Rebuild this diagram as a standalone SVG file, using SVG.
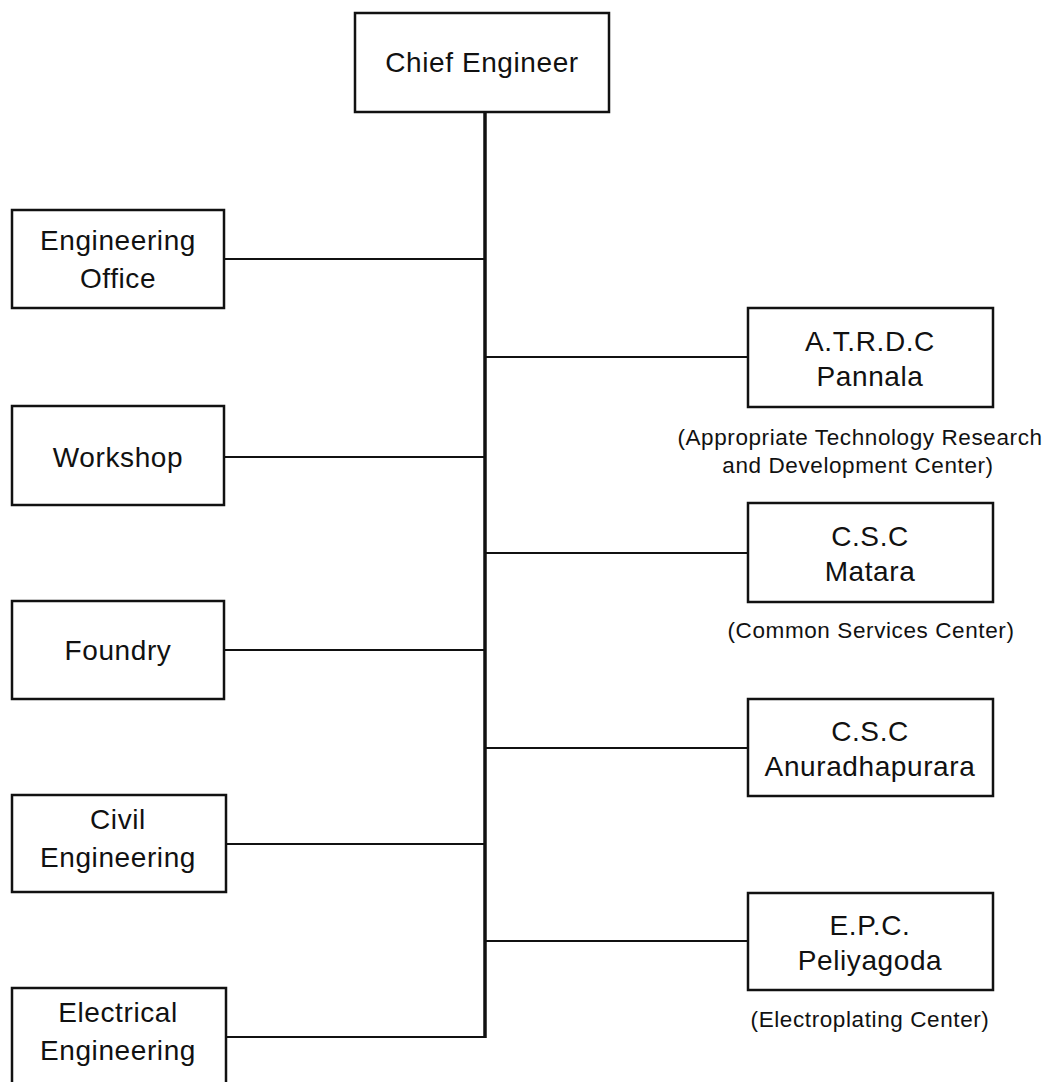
<svg xmlns="http://www.w3.org/2000/svg" width="1050" height="1082" viewBox="0 0 1050 1082">
  <style>
    .box { fill: #fff; stroke: #111; stroke-width: 2.5; }
    .lbl { font-family: "Liberation Sans", Arial, sans-serif; font-size: 28px; fill: #111; text-anchor: middle; letter-spacing: 0.6px; }
    .note { font-family: "Liberation Sans", Arial, sans-serif; font-size: 22.5px; fill: #111; text-anchor: middle; letter-spacing: 0.6px; }
    .trunk { stroke: #111; stroke-width: 3.5; fill: none; }
    .branch { stroke: #111; stroke-width: 1.8; fill: none; }
  </style>
  <rect width="1050" height="1082" fill="#fff"/>

  <!-- connectors: one trunk from the top node, branches to each unit -->
  <g id="connectors">
    <line class="trunk" x1="485" y1="112" x2="485" y2="1038"/>
    <line class="branch" x1="224" y1="259" x2="485" y2="259"/>
    <line class="branch" x1="224" y1="457" x2="485" y2="457"/>
    <line class="branch" x1="224" y1="650" x2="485" y2="650"/>
    <line class="branch" x1="226" y1="844" x2="485" y2="844"/>
    <line class="branch" x1="226" y1="1037" x2="485" y2="1037"/>
    <line class="branch" x1="485" y1="357" x2="748" y2="357"/>
    <line class="branch" x1="485" y1="553" x2="748" y2="553"/>
    <line class="branch" x1="485" y1="748" x2="748" y2="748"/>
    <line class="branch" x1="485" y1="941" x2="748" y2="941"/>
  </g>

  <!-- top node -->
  <g id="chief-engineer">
    <rect class="box" x="355" y="13" width="254" height="99"/>
    <text class="lbl" x="482" y="72">Chief Engineer</text>
  </g>

  <!-- left column -->
  <g id="engineering-office">
    <rect class="box" x="12" y="210" width="212" height="98"/>
    <text class="lbl" x="118" y="250">Engineering</text>
    <text class="lbl" x="118" y="288">Office</text>
  </g>
  <g id="workshop">
    <rect class="box" x="12" y="406" width="212" height="99"/>
    <text class="lbl" x="118" y="467">Workshop</text>
  </g>
  <g id="foundry">
    <rect class="box" x="12" y="601" width="212" height="98"/>
    <text class="lbl" x="118" y="660">Foundry</text>
  </g>
  <g id="civil-engineering">
    <rect class="box" x="12" y="795" width="214" height="97"/>
    <text class="lbl" x="118" y="829">Civil</text>
    <text class="lbl" x="118" y="867">Engineering</text>
  </g>
  <g id="electrical-engineering">
    <rect class="box" x="12" y="988" width="214" height="110"/>
    <text class="lbl" x="118" y="1022">Electrical</text>
    <text class="lbl" x="118" y="1060">Engineering</text>
  </g>

  <!-- right column -->
  <g id="atrdc-pannala">
    <rect class="box" x="748" y="308" width="245" height="99"/>
    <text class="lbl" x="870" y="351">A.T.R.D.C</text>
    <text class="lbl" x="870" y="386">Pannala</text>
    <text class="note" x="860" y="445">(Appropriate Technology Research</text>
    <text class="note" x="858" y="473">and Development Center)</text>
  </g>
  <g id="csc-matara">
    <rect class="box" x="748" y="503" width="245" height="99"/>
    <text class="lbl" x="870" y="546">C.S.C</text>
    <text class="lbl" x="870" y="581">Matara</text>
    <text class="note" x="871" y="638">(Common Services Center)</text>
  </g>
  <g id="csc-anuradhapurara">
    <rect class="box" x="748" y="699" width="245" height="97"/>
    <text class="lbl" x="870" y="741">C.S.C</text>
    <text class="lbl" x="870" y="776">Anuradhapurara</text>
  </g>
  <g id="epc-peliyagoda">
    <rect class="box" x="748" y="893" width="245" height="97"/>
    <text class="lbl" x="870" y="935">E.P.C.</text>
    <text class="lbl" x="870" y="970">Peliyagoda</text>
    <text class="note" x="870" y="1027">(Electroplating Center)</text>
  </g>
</svg>
